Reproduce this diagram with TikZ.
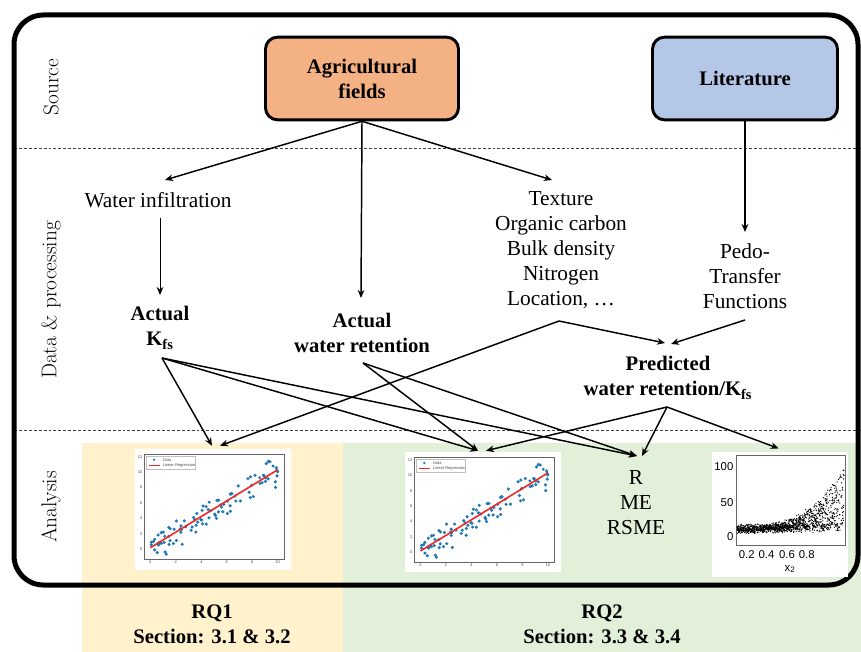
\documentclass[tikz,border=0pt]{standalone}
\usepackage{fontspec}
\newfontfamily\tnr{Liberation Serif}
\newfontfamily\arl{Liberation Sans}
\usetikzlibrary{arrows.meta,calc}

\definecolor{agrifill}{HTML}{F4B183}
\definecolor{litfill}{HTML}{B4C7E7}
\definecolor{rqone}{HTML}{FFF2CC}
\definecolor{rqtwo}{HTML}{E2F0D9}
\definecolor{mplblue}{HTML}{1F77B4}
\definecolor{mplred}{HTML}{F02828}

% small regression plot, #1 = where data point (0,0) sits
\newcommand{\regplot}[1]{%
  \begin{scope}[shift={#1}, x=9.55pt, y=5.79pt,
      tick/.style={font=\arl\fontsize{3}{3}\selectfont, text=black!70, inner sep=0.6pt}]
    \draw[black!60, line width=0.4pt] (-0.49,-1.26) rectangle (10.5,12.35);
    \foreach \tv in {0,2,...,10}
      \node[tick, below] at (\tv,-1.3) {\tv};
    \foreach \tv in {0,2,...,12}
      \node[tick, left] at (-0.55,\tv) {\tv};
    \pgfmathsetseed{42}
    \foreach \i in {1,...,100}{
      \pgfmathsetmacro{\px}{10*rnd}
      \pgfmathsetmacro{\py}{\px+0.2+0.9*(rand+rand+rand)}
      \fill[mplblue] (\px,\py) circle (1.3pt);
    }
    \draw[mplred, line width=1.2pt] (0,0.2) -- (10,10.3);
    \draw[black!25, fill=white, line width=0.3pt] (-0.3,10.4) rectangle (3.5,12.1);
    \fill[mplblue] (0.3,11.6) circle (1pt);
    \node[tick, right] at (0.9,11.6) {Data};
    \draw[mplred, line width=0.9pt] (-0.1,10.85) -- (0.75,10.85);
    \node[tick, right] at (0.9,10.85) {Linear Regression};
  \end{scope}}

\begin{document}
\begin{tikzpicture}[x=0.75pt, y=-0.75pt,
  srcbox/.style={draw, line width=2.2pt, rounded corners=9pt, minimum height=62pt,
    align=center, font=\tnr\bfseries\fontsize{15.5}{18.75}\selectfont},
  txt/.style={align=center, inner sep=1pt, font=\tnr\fontsize{16}{18.75}\selectfont},
  btxt/.style={align=center, inner sep=1pt, font=\tnr\bfseries\fontsize{15.5}{18.75}\selectfont},
  rowlbl/.style={rotate=90, font=\fontsize{16}{18}\selectfont},
  plotbg/.style={fill=white, inner sep=0pt},
  arr/.style={-{Stealth[length=6pt,width=5pt]}, line width=1.1pt},
  thinarr/.style={-{Stealth[length=6pt,width=5pt]}, line width=0.7pt}]

\useasboundingbox (0,0) rectangle (861,652);

% colour bands of the two research questions
\fill[rqone] (82,443) rectangle (343,652);
\fill[rqtwo] (343,443) rectangle (861,652);

\draw[black!75, line width=0.6pt, dash pattern=on 2.2pt off 1.5pt] (14,148) -- (861,148);
\draw[black!75, line width=0.6pt, dash pattern=on 2.2pt off 1.5pt] (14,430) -- (861,430);
\draw[line width=3.75pt, rounded corners=22pt] (14,15) rectangle (858,585);

% rows
\node[rowlbl] (src) at (51,87) {Source};
\node[rowlbl] (dat) at (51,300) {Data \& processing};
\node[rowlbl] (ana) at (51,507) {Analysis};

% sources
\node[srcbox, fill=agrifill, minimum width=144.75pt] (agri) at (362,78.5) {Agricultural\\fields};
\node[srcbox, fill=litfill, minimum width=138.75pt] (lit) at (745,78.5) {Literature};

% data
\node[txt] (winf) at (158,200) {Water infiltration};
\node[txt] (soil) at (561,250) {Texture\\Organic carbon\\Bulk density\\Nitrogen\\Location, \dots};
\node[txt] (ptf) at (745,276) {Pedo-\\Transfer\\Functions};
\node[btxt] (kfs) at (160,328) {Actual\\K\textsubscript{fs}};
\node[btxt] (awr) at (362,333) {Actual\\water retention};
\node[btxt] (pred) at (668,378) {Predicted\\water retention/K\textsubscript{fs}};

% analysis
\node[plotbg, minimum width=117pt, minimum height=90.75pt] (plotA) at (213,509.5) {};
\node[plotbg, minimum width=117pt, minimum height=90pt] (plotB) at (483,512) {};
\node[plotbg, minimum width=102pt, minimum height=93.75pt] (plotC) at (779.7,514.2) {};
\node[txt] (stats) at (636,503) {R\\ME\\RSME};

\regplot{(150.3,549.3)}
\regplot{(420.5,552.5)}

% scatter of the right plot
\begin{scope}[lab/.style={font=\arl\fontsize{8.5}{8.5}\selectfont, inner sep=0.3pt}]
  \draw[black!60, line width=0.4pt] (736,455) rectangle (845,545);
  \pgfmathsetseed{7}
  \foreach \i in {1,...,1300}{
    \pgfmathsetmacro{\ux}{rnd}
    \pgfmathsetmacro{\ur}{rnd}
    \pgfmathsetmacro{\uv}{11+3.5*(rand+rand)+90*\ux^3*\ur^1.4}
    \fill (737+107*\ux, 536.7-0.7*\uv) circle (0.5pt);
  }
  \node[lab, left] at (734,466.7) {100};
  \node[lab, left] at (734,502.7) {50};
  \node[lab, left] at (734,536.7) {0};
  \foreach \xv/\xl in {746.7/0.2, 766.5/0.4, 787/0.6, 806.7/0.8}
    \node[lab] at (\xv,555) {\xl};
  \node[lab] at (790,569) {x\textsubscript{2}};
\end{scope}

% footer
\node[btxt] (rq1) at (212,624) {RQ1\\Section: 3.1 \& 3.2};
\node[btxt] (rq2) at (602,624) {RQ2\\Section: 3.3 \& 3.4};

% connectors
\draw[arr] (agri.south) -- ($(winf)+(7,-20)$);
\draw[arr] (agri.south) -- ($(soil)+(-9,-70)$);
\draw[arr] (agri.south) -- ($(awr)+(-1,-35)$);
\draw[arr] (lit.south) -- ($(ptf)+(0,-44)$);
\draw[thinarr] ($(winf)+(2,18)$) -- ($(kfs)+(0,-33)$);

\draw[arr] ($(kfs)+(2,30)$) -- ($(plotA.north)+(-1,-3)$);
\draw[arr] ($(kfs)+(2,30)$) -- ($(plotB.north)+(-5,-1)$);
\draw[arr] ($(kfs)+(2,30)$) -- ($(stats)+(1,-47)$);
\draw[arr] ($(awr)+(1,30)$) -- ($(plotB.north)+(-5,-1)$);
\draw[arr] ($(awr)+(1,30)$) -- ($(stats)+(1,-47)$);
\draw[arr] ($(soil)+(-2,71)$) -- ($(plotA.north)+(7,-3)$);
\draw[arr] ($(soil)+(-2,71)$) -- ($(pred)+(-3,-35)$);
\draw[arr] ($(ptf)+(0,44)$) -- ($(pred)+(3,-34)$);
\draw[arr] ($(pred)+(-1,29)$) -- ($(plotB.north)+(3,-1)$);
\draw[arr] ($(pred)+(-1,29)$) -- ($(stats)+(6,-47)$);
\draw[arr] ($(pred)+(-1,29)$) -- ($(plotC.north)+(-1,-3)$);
\end{tikzpicture}
\end{document}
